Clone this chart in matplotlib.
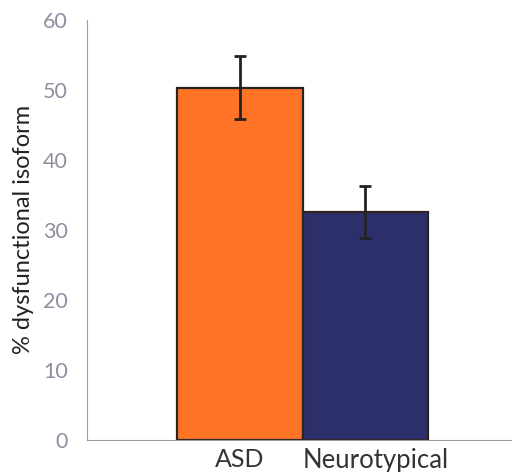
import matplotlib.pyplot as plt
import matplotlib.transforms as mtransforms

groups = ["ASD", "Neurotypical"]
values = [50.3, 32.5]
errors = [4.5, 3.7]
colors = ["#FF7426", "#2D2F6A"]

plt.rcParams['font.family'] = ['Lato', 'DejaVu Sans']

fig = plt.figure(figsize=(5.12, 4.72), dpi=100)
ax = fig.add_axes([0.17, 0.068, 0.83, 0.89])

x = range(len(groups))
ax.bar(x, values, width=1.0, color=colors, edgecolor="#2b2320", linewidth=1.6,
       yerr=errors, error_kw=dict(ecolor="#222222", elinewidth=2, capsize=4, capthick=2))

ax.set_xlim(-1.217, 2.169)
ax.set_ylim(0, 60)
ax.set_yticks(range(0, 61, 10))
ax.set_xticks(list(x))
ax.set_xticklabels(groups, fontsize=18, color="#333333")
ax.tick_params(axis='x', length=0, pad=6)
ax.tick_params(axis='y', length=0, pad=14, labelsize=15.5, labelcolor="#8C90A0")
ax.set_ylabel("% dysfunctional isoform", fontsize=17, color="#222222", labelpad=6)

# nudge the second category label a little to the right
lbl = ax.get_xticklabels()[1]
lbl.set_transform(lbl.get_transform() + mtransforms.ScaledTranslation(10 / 100, 0, fig.dpi_scale_trans))
lbl.set_fontsize(18.5)

for side in ["top", "right"]:
    ax.spines[side].set_visible(False)
for side in ["left", "bottom"]:
    ax.spines[side].set_color("#9a9aa8")
    ax.spines[side].set_linewidth(0.8)

fig.savefig("out.png", dpi=100)
